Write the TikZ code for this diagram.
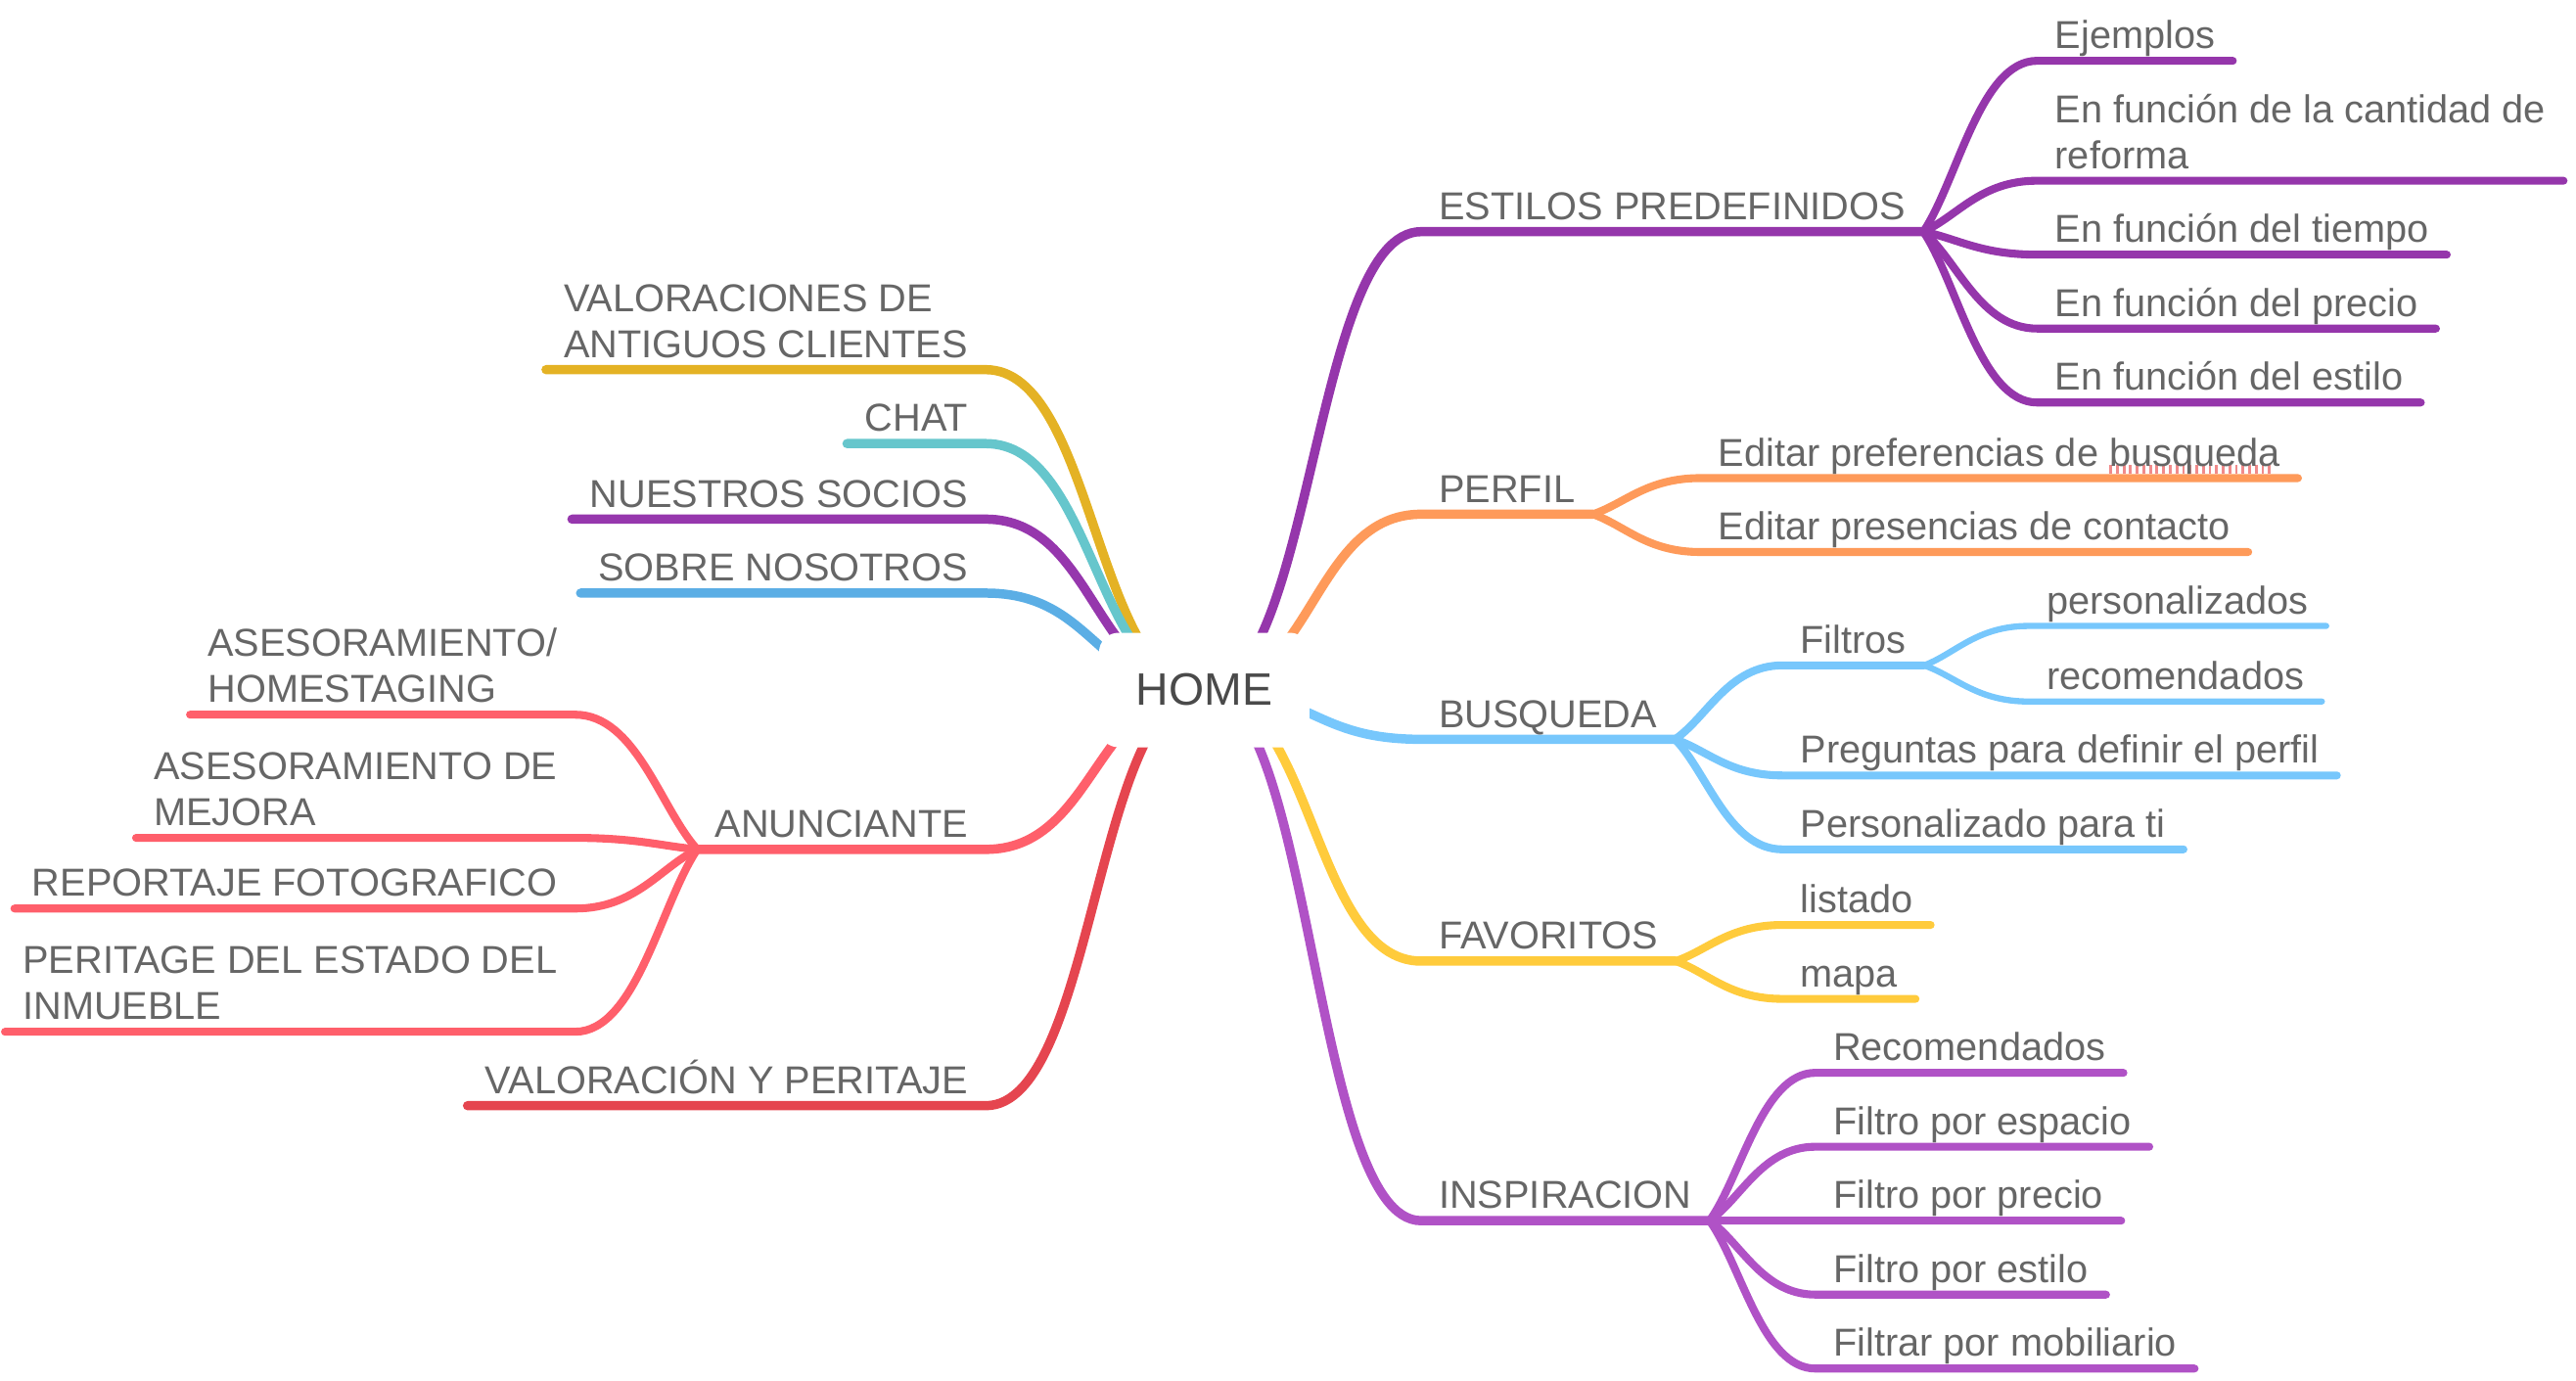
\documentclass[tikz,border=0pt]{standalone}
\usepackage{fontspec}
\setmainfont{Liberation Sans}
\usetikzlibrary{positioning,calc,backgrounds}

\definecolor{textgray}{HTML}{666666}
\definecolor{homegray}{HTML}{4A4A4A}
\definecolor{spellred}{HTML}{F08A8A}
\definecolor{cEstilos}{HTML}{9536AB}
\definecolor{cPerfil}{HTML}{FE9A5A}
\definecolor{cBusqueda}{HTML}{77C7FC}
\definecolor{cFavoritos}{HTML}{FFCB3C}
\definecolor{cInspira}{HTML}{B052C6}
\definecolor{cPeritaje}{HTML}{E5454F}
\definecolor{cAnuncia}{HTML}{FF5F6B}
\definecolor{cSobre}{HTML}{5BAEE5}
\definecolor{cSocios}{HTML}{9637AD}
\definecolor{cChat}{HTML}{66C6CC}
\definecolor{cClientes}{HTML}{E4B224}

% spell-check ticks under a word
\newsavebox\spellbox
\newcommand\spellmark[1]{\sbox\spellbox{#1}\rlap{\raisebox{-0.35ex}{\color{spellred}\leaders\hbox{\rule{0.07em}{0.4ex}\kern0.1em}\hskip\wd\spellbox}}\usebox\spellbox}

\begin{document}
\begin{tikzpicture}
[x=0.016786cm,y=-0.016786cm,
topic/.style={font=\fontsize{11.3}{13.4}\selectfont,text=textgray,
inner xsep=5pt,inner ysep=3.3pt,text depth=0pt,align=left},
root/.style={font=\fontsize{13.2}{15}\selectfont,text=homegray,fill=white,
rounded corners=0.2cm,minimum width=2.15cm,minimum height=1.17cm},
mainline/.style={line width=2.7pt,line cap=round},
subline/.style={line width=2.3pt,line cap=round},
leafline/.style={line width=1.8pt,line cap=round},
trunk/.style={to path={.. controls ($(\tikztostart)!0.5!(\tikztotarget |- \tikztostart)$)
and ($(\tikztotarget)!0.5!(\tikztostart |- \tikztotarget)$) .. (\tikztotarget)}},
fan/.style={to path={.. controls ($(\tikztostart)!0.3!(\tikztotarget)$)
and ($(\tikztotarget)!0.5!(\tikztostart |- \tikztotarget)$) .. (\tikztotarget)}}]
\useasboundingbox (0,0) rectangle (1568,840);

\node at (733,420) [root] (home) {HOME};

% right side
\node at (865,141) [topic,anchor=south west] (estilos) {ESTILOS PREDEFINIDOS};
\node at (1240,37) [topic,anchor=south west] (ejemplos) {Ejemplos};
\node at (1240,110) [topic,anchor=south west] (cantidad) {En función de la cantidad de\\reforma};
\node at (1240,155) [topic,anchor=south west] (tiempo) {En función del tiempo};
\node at (1240,200) [topic,anchor=south west] (precio) {En función del precio};
\node at (1240,245) [topic,anchor=south west] (estilo) {En función del estilo};

\node at (865,313) [topic,anchor=south west] (perfil) {PERFIL};
\node at (1035,291) [topic,anchor=south west] (editpref) {Editar preferencias de \spellmark{busqueda}};
\node at (1035,336) [topic,anchor=south west] (editcont) {Editar presencias de contacto};

\node at (865,450) [topic,anchor=south west] (busqueda) {BUSQUEDA};
\node at (1085,405) [topic,anchor=south west] (filtros) {Filtros};
\node at (1235,381) [topic,anchor=south west] (personal) {personalizados};
\node at (1235,427) [topic,anchor=south west] (recomend) {recomendados};
\node at (1085,472) [topic,anchor=south west] (preguntas) {Preguntas para definir el perfil};
\node at (1085,517) [topic,anchor=south west] (parati) {Personalizado para ti};

\node at (865,585) [topic,anchor=south west] (favoritos) {FAVORITOS};
\node at (1085,563) [topic,anchor=south west] (listado) {listado};
\node at (1085,608) [topic,anchor=south west] (mapa) {mapa};

\node at (865,743) [topic,anchor=south west] (inspira) {INSPIRACION};
\node at (1105,653) [topic,anchor=south west] (recoins) {Recomendados};
\node at (1105,698) [topic,anchor=south west] (espacio) {Filtro por espacio};
\node at (1105,743) [topic,anchor=south west] (precioins) {Filtro por precio};
\node at (1105,788) [topic,anchor=south west] (estiloins) {Filtro por estilo};
\node at (1105,833) [topic,anchor=south west] (mobiliario) {Filtrar por mobiliario};

% left side
\node at (600,225) [topic,anchor=south east] (clientes) {VALORACIONES DE\\ANTIGUOS CLIENTES};
\node at (600,270) [topic,anchor=south east] (chat) {CHAT};
\node at (600,316) [topic,anchor=south east] (socios) {NUESTROS SOCIOS};
\node at (600,361) [topic,anchor=south east] (sobre) {SOBRE NOSOTROS};
\node at (600,517) [topic,anchor=south east] (anuncia) {ANUNCIANTE};
\node at (350,435) [topic,anchor=south east] (homestaging) {ASESORAMIENTO/\\HOMESTAGING};
\node at (350,510) [topic,anchor=south east] (mejora) {ASESORAMIENTO DE\\MEJORA};
\node at (350,553) [topic,anchor=south east] (reportaje) {REPORTAJE FOTOGRAFICO};
\node at (350,628) [topic,anchor=south east] (peritage) {PERITAGE DEL ESTADO DEL\\INMUEBLE};
\node at (600,673) [topic,anchor=south east] (peritaje) {VALORACIÓN Y PERITAJE};

\begin{scope}[on background layer]
\draw[mainline,cEstilos] (home.center) to[trunk] (estilos.south west) -- (estilos.south east);
\draw[subline,cEstilos] (estilos.south east) to[fan] (ejemplos.south west) -- (ejemplos.south east);
\draw[subline,cEstilos] (estilos.south east) to[fan] (cantidad.south west) -- (cantidad.south east);
\draw[subline,cEstilos] (estilos.south east) to[fan] (tiempo.south west) -- (tiempo.south east);
\draw[subline,cEstilos] (estilos.south east) to[fan] (precio.south west) -- (precio.south east);
\draw[subline,cEstilos] (estilos.south east) to[fan] (estilo.south west) -- (estilo.south east);

\draw[mainline,cPerfil] (home.center) to[trunk] (perfil.south west) -- (perfil.south east);
\draw[subline,cPerfil] (perfil.south east) to[fan] (editpref.south west) -- (editpref.south east);
\draw[subline,cPerfil] (perfil.south east) to[fan] (editcont.south west) -- (editcont.south east);

\draw[mainline,cBusqueda] (home.center) to[trunk] (busqueda.south west) -- (busqueda.south east);
\draw[subline,cBusqueda] (busqueda.south east) to[fan] (filtros.south west) -- (filtros.south east);
\draw[leafline,cBusqueda] (filtros.south east) to[fan] (personal.south west) -- (personal.south east);
\draw[leafline,cBusqueda] (filtros.south east) to[fan] (recomend.south west) -- (recomend.south east);
\draw[subline,cBusqueda] (busqueda.south east) to[fan] (preguntas.south west) -- (preguntas.south east);
\draw[subline,cBusqueda] (busqueda.south east) to[fan] (parati.south west) -- (parati.south east);

\draw[mainline,cFavoritos] (home.center) to[trunk] (favoritos.south west) -- (favoritos.south east);
\draw[subline,cFavoritos] (favoritos.south east) to[fan] (listado.south west) -- (listado.south east);
\draw[subline,cFavoritos] (favoritos.south east) to[fan] (mapa.south west) -- (mapa.south east);

\draw[mainline,cInspira] (home.center) to[trunk] (inspira.south west) -- (inspira.south east);
\draw[subline,cInspira] (inspira.south east) to[fan] (recoins.south west) -- (recoins.south east);
\draw[subline,cInspira] (inspira.south east) to[fan] (espacio.south west) -- (espacio.south east);
\draw[subline,cInspira] (inspira.south east) to[fan] (precioins.south west) -- (precioins.south east);
\draw[subline,cInspira] (inspira.south east) to[fan] (estiloins.south west) -- (estiloins.south east);
\draw[subline,cInspira] (inspira.south east) to[fan] (mobiliario.south west) -- (mobiliario.south east);

\draw[mainline,cClientes] (home.center) to[trunk] (clientes.south east) -- (clientes.south west);
\draw[mainline,cChat] (home.center) to[trunk] (chat.south east) -- (chat.south west);
\draw[mainline,cSocios] (home.center) to[trunk] (socios.south east) -- (socios.south west);
\draw[mainline,cSobre] (home.center) to[trunk] (sobre.south east) -- (sobre.south west);

\draw[mainline,cAnuncia] (home.center) to[trunk] (anuncia.south east) -- (anuncia.south west);
\draw[subline,cAnuncia] (anuncia.south west) to[fan] (homestaging.south east) -- (homestaging.south west);
\draw[subline,cAnuncia] (anuncia.south west) to[fan] (mejora.south east) -- (mejora.south west);
\draw[subline,cAnuncia] (anuncia.south west) to[fan] (reportaje.south east) -- (reportaje.south west);
\draw[subline,cAnuncia] (anuncia.south west) to[fan] (peritage.south east) -- (peritage.south west);

\draw[mainline,cPeritaje] (home.center) to[trunk] (peritaje.south east) -- (peritaje.south west);
\end{scope}
\end{tikzpicture}
\end{document}
